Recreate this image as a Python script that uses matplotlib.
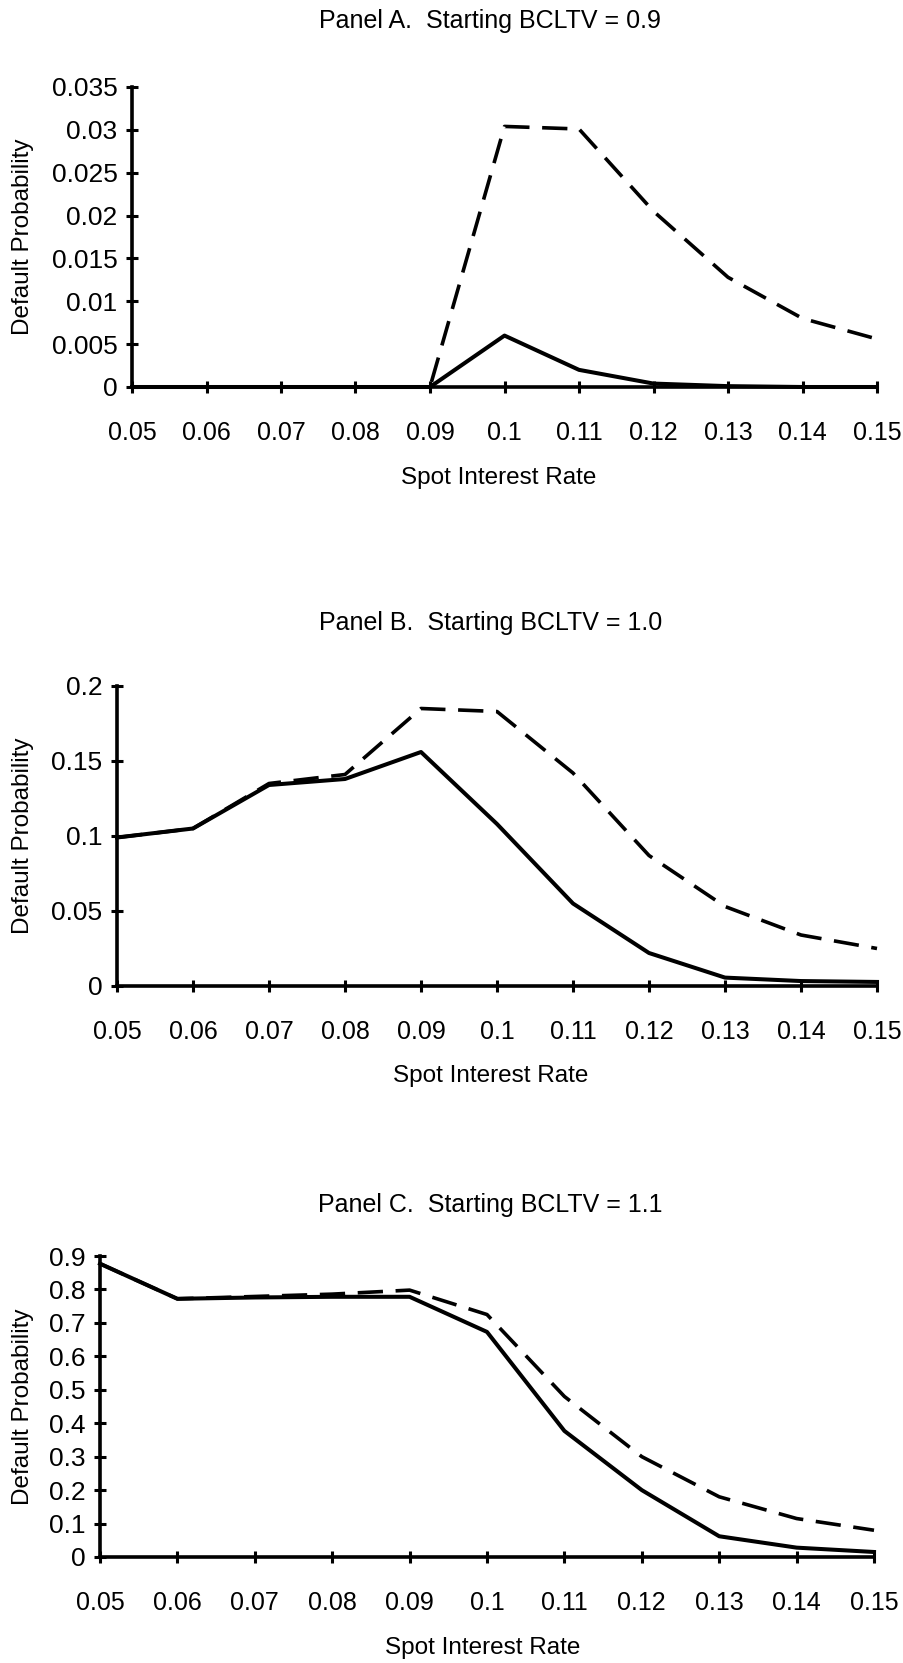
"""Default probability vs spot interest rate, three BCLTV panels."""

import matplotlib

matplotlib.use("Agg")
import matplotlib.pyplot as plt

plt.rcParams["font.family"] = ["Liberation Sans", "DejaVu Sans"]

rates = [0.05, 0.06, 0.07, 0.08, 0.09, 0.10, 0.11, 0.12, 0.13, 0.14, 0.15]
rate_labels = ["0.05", "0.06", "0.07", "0.08", "0.09", "0.1",
               "0.11", "0.12", "0.13", "0.14", "0.15"]

panel_titles = [
    "Panel A.  Starting BCLTV = 0.9",
    "Panel B.  Starting BCLTV = 1.0",
    "Panel C.  Starting BCLTV = 1.1",
]

a_solid = [0, 0, 0, 0, 0, 0.0060, 0.0020, 0.0004, 0.0001, 0.0, 0.0]
a_dashed = [0, 0, 0, 0, 0, 0.0304, 0.0301, 0.0205, 0.0128, 0.0080, 0.0056]
a_yticks = [0, 0.005, 0.01, 0.015, 0.02, 0.025, 0.03, 0.035]
a_ylabels = ["0", "0.005", "0.01", "0.015", "0.02", "0.025", "0.03", "0.035"]

b_solid = [0.099, 0.105, 0.134, 0.138, 0.156, 0.108, 0.055, 0.022, 0.0056, 0.0033, 0.0027]
b_dashed = [0.099, 0.105, 0.135, 0.141, 0.185, 0.183, 0.142, 0.087, 0.053, 0.034, 0.025]
b_yticks = [0, 0.05, 0.1, 0.15, 0.2]
b_ylabels = ["0", "0.05", "0.1", "0.15", "0.2"]

c_solid = [0.877, 0.772, 0.776, 0.778, 0.778, 0.673, 0.377, 0.200, 0.062, 0.028, 0.015]
c_dashed = [0.877, 0.772, 0.779, 0.786, 0.798, 0.725, 0.480, 0.300, 0.180, 0.115, 0.080]
c_yticks = [0, 0.1, 0.2, 0.3, 0.4, 0.5, 0.6, 0.7, 0.8, 0.9]
c_ylabels = ["0", "0.1", "0.2", "0.3", "0.4", "0.5", "0.6", "0.7", "0.8", "0.9"]

W, H = 904, 1663


def draw_panel(fig, box, title, title_xy, xlabel_xy, solid, dashed, yticks, ylabels):
    left, top, right, bottom = box
    ax = fig.add_axes([left / W, 1 - bottom / H, (right - left) / W, (bottom - top) / H])
    ax.plot(rates, dashed, color="black", lw=2.6, dashes=(7, 3.5), solid_capstyle="butt")
    ax.plot(rates, solid, color="black", lw=2.9)
    ax.set_xlim(rates[0], rates[-1])
    ax.set_ylim(yticks[0], yticks[-1])
    ax.set_xticks(rates)
    ax.set_xticklabels(rate_labels)
    ax.set_yticks(yticks)
    ax.set_yticklabels(ylabels)
    for side in ("top", "right"):
        ax.spines[side].set_visible(False)
    for side in ("left", "bottom"):
        ax.spines[side].set_linewidth(2.6)
    ax.tick_params(axis="both", direction="inout", length=9, width=2.2)
    ax.tick_params(axis="x", pad=20, labelsize=18)
    ax.tick_params(axis="y", pad=6, labelsize=19)
    ax.set_facecolor("none")
    for line in ax.get_lines():
        line.set_clip_on(False)

    fig.text(title_xy[0] / W, 1 - title_xy[1] / H, title, ha="center", va="center", fontsize=18)
    fig.text(xlabel_xy[0] / W, 1 - xlabel_xy[1] / H, "Spot Interest Rate",
             ha="center", va="center", fontsize=17.5)
    fig.text(23 / W, 1 - (top + bottom) / 2 / H, "Default Probability",
             ha="center", va="center", rotation=90, fontsize=17.5)
    return ax


figure = plt.figure(figsize=(W / 100, H / 100), dpi=100)
draw_panel(figure, (132, 87, 877, 387), panel_titles[0], (490, 21), (499, 478),
           a_solid, a_dashed, a_yticks, a_ylabels)
draw_panel(figure, (117, 686, 877, 986), panel_titles[1], (491, 623), (491, 1076),
           b_solid, b_dashed, b_yticks, b_ylabels)
draw_panel(figure, (100, 1256, 874, 1557), panel_titles[2], (490, 1205), (483, 1648),
           c_solid, c_dashed, c_yticks, c_ylabels)

figure.savefig("out.png", dpi=100)
plt.close(figure)
